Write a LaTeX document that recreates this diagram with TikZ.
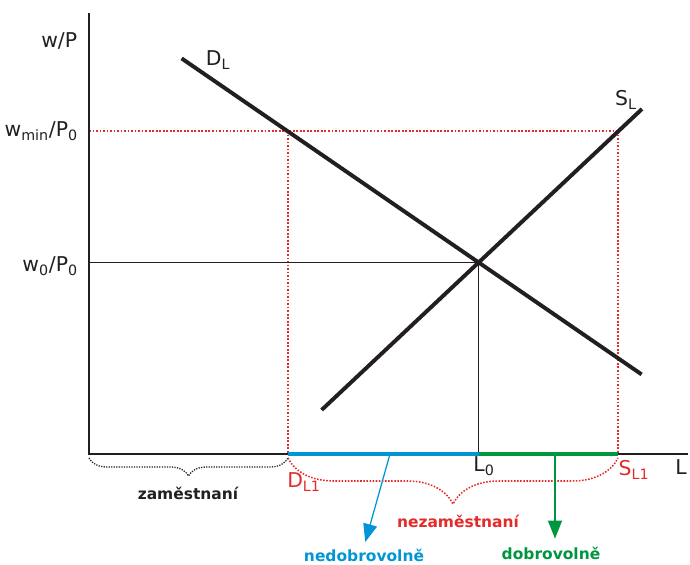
\documentclass[tikz,border=0pt]{standalone}
\usepackage{fontspec}
\setmainfont{DejaVu Sans}
\usetikzlibrary{arrows.meta, decorations.pathreplacing}
\definecolor{lnblack}{HTML}{231F20}
\definecolor{mkred}{HTML}{E42B2B}
\definecolor{volblue}{HTML}{0096D6}
\definecolor{volgreen}{HTML}{00953F}

\begin{document}
\begin{tikzpicture}[>={Triangle[length=4.5mm, width=3.5mm]}, line width=1pt,
  axlab/.style={font=\fontsize{14.5}{16}\selectfont, text=lnblack, inner sep=1pt},
  grplab/.style={font=\fontsize{11}{13}\selectfont\bfseries, inner sep=1pt},
  reddot/.style={mkred, line width=1.25pt, dash pattern=on 1.25pt off 1.25pt}]

\useasboundingbox (0,0) rectangle (17.25,14.1);

% Key points
\coordinate (O) at (2.225,2.75);
\coordinate (ytop) at (2.225,13.775);
\coordinate (xend) at (17.2,2.75);
\coordinate (dl1) at (4.54,12.64);
\coordinate (dl2) at (16.04,4.74);
\coordinate (sl1) at (8.04,3.85);
\coordinate (sl2) at (16.05,11.375);
\coordinate (E) at (intersection of dl1--dl2 and sl1--sl2);
\coordinate (wmin) at (2.225,10.825);
\coordinate (Dmin) at (7.2,10.825);
\coordinate (Smin) at (15.45,10.825);
\coordinate (DL1) at (7.2,2.75);
\coordinate (SL1) at (15.45,2.75);
\coordinate (L0) at (E |- O);
\coordinate (w0) at (E -| O);

% === Minimum wage lines (red, dotted) ===
\draw[reddot] (wmin) -- (Smin);
\draw[reddot] (Dmin) -- (DL1);
\draw[reddot] (Smin) -- (SL1);

% Equilibrium guides
\draw[lnblack, line width=0.8pt] (w0) -- (E) -- (L0);

% === Axes ===
\draw[lnblack] (ytop) -- (O) -- (xend);

% Unemployed segments on the L axis
\draw[volblue, line width=2.8pt] (DL1) -- (L0);
\draw[volgreen, line width=2.8pt] (L0) -- (SL1);

% Demand and supply curves
\draw[lnblack, line width=2.8pt] (dl1) -- (dl2);
\draw[lnblack, line width=2.8pt] (sl1) -- (sl2);

% === Axis labels ===
\node[axlab, anchor=east] (lwp) at (1.98,13.075) {w/P};
\node[axlab, anchor=east] (lwmin) at (2.0,10.825) {w\textsubscript{min}/P\textsubscript{0}};
\node[axlab, anchor=east] (lw0) at (2.0,7.45) {w\textsubscript{0}/P\textsubscript{0}};
\node[axlab] (lL) at (17.025,2.425) {L};
\node[axlab] (lL0) at (12.1,2.45) {L\textsubscript{0}};
\node[axlab] (lDL) at (5.45,12.6) {D\textsubscript{L}};
\node[axlab] (lSL) at (15.65,11.6) {S\textsubscript{L}};
\node[axlab, text=mkred] (lDL1) at (7.6,2.05) {D\textsubscript{L1}};
\node[axlab, text=mkred] (lSL1) at (15.85,2.35) {S\textsubscript{L1}};

% === Braces ===
\draw[lnblack, line width=0.9pt, dash pattern=on 0.9pt off 0.9pt, decorate,
      decoration={brace, mirror, amplitude=0.45cm}] (2.225,2.65) -- (7.2,2.65);
\draw[mkred, line width=1.1pt, dash pattern=on 1.1pt off 1.1pt, decorate,
      decoration={brace, mirror, amplitude=1.15cm}] (7.2,2.65) -- (15.45,2.65);

\node[grplab, text=lnblack] (zam) at (4.7,1.775) {zaměstnaní};
\node[grplab, text=mkred] (nezam) at (11.45,1.075) {nezaměstnaní};

% === Voluntary / involuntary arrows ===
\coordinate (bstart) at (9.75,2.75);
\coordinate (gstart) at (13.875,2.75);
\node[grplab, text=volblue] (nedob) at (9.1,0.225) {nedobrovolně};
\node[grplab, text=volgreen] (dob) at (13.775,0.275) {dobrovolně};

\draw[->, volblue, line width=0.9pt, shorten >=0.12cm] (bstart) -- (nedob.north);
\draw[->, volgreen, line width=1.1pt, shorten >=0.15cm] (gstart) -- (gstart |- dob.north);

\end{tikzpicture}
\end{document}
